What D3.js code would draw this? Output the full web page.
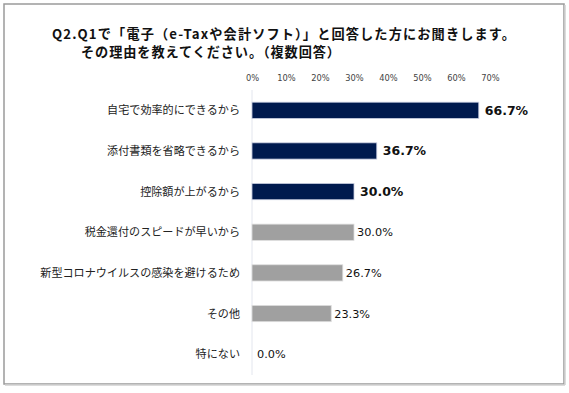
<!DOCTYPE html>
<html>
<head>
<meta charset="utf-8">
<script src="https://cdn.jsdelivr.net/npm/d3@7"></script>
<style>
  body { margin: 0; background: #fff; }
  svg { display: block; font-family: "Noto Sans CJK JP", "Noto Sans", sans-serif; }
</style>
</head>
<body>
<svg id="chart" width="569" height="393"></svg>
<script>
const categories = [
  "自宅で効率的にできるから",
  "添付書類を省略できるから",
  "控除額が上がるから",
  "税金還付のスピードが早いから",
  "新型コロナウイルスの感染を避けるため",
  "その他",
  "特にない"
];
const values = [66.7, 36.7, 30.0, 30.0, 26.7, 23.3, 0.0];
const highlighted = [true, true, true, false, false, false, false];
const tickValues = [0, 10, 20, 30, 40, 50, 60, 70];
const titleLines = [
  "Q2.Q1で「電子（e-Taxや会計ソフト）」と回答した方にお聞きします。",
  "その理由を教えてください。（複数回答）"
];

const data = categories.map((c, i) => ({ name: c, value: values[i], hi: highlighted[i] }));

const svg = d3.select("#chart");

// frame
svg.append("rect")
  .attr("x", 4).attr("y", 4)
  .attr("width", 560).attr("height", 380)
  .attr("fill", "none")
  .attr("stroke", "#9a9a9a")
  .attr("stroke-width", 1.5);
svg.append("line")
  .attr("x1", 5).attr("x2", 565).attr("y1", 385).attr("y2", 385)
  .attr("stroke", "#d0d0d0").attr("stroke-width", 1.5);
svg.append("line")
  .attr("x1", 565).attr("x2", 565).attr("y1", 5).attr("y2", 385)
  .attr("stroke", "#d0d0d0").attr("stroke-width", 1.5);

// title
svg.append("text")
  .attr("x", 52).attr("y", 38.5)
  .attr("font-size", 13.2).attr("font-weight", "bold").attr("fill", "#111")
  .attr("textLength", 463).attr("lengthAdjust", "spacing")
  .text(titleLines[0]);
svg.append("text")
  .attr("x", 81).attr("y", 57)
  .attr("font-size", 13.2).attr("font-weight", "bold").attr("fill", "#111")
  .attr("textLength", 259).attr("lengthAdjust", "spacing")
  .text(titleLines[1]);

const x = d3.scaleLinear().domain([0, 70]).range([252, 490]);
const y = d3.scaleBand().domain(categories).range([90, 374.5]).paddingInner(0.6).paddingOuter(0.3);

// top axis
const xAxis = (g) =>
  g.attr("transform", "translate(0,81)")
    .call(d3.axisTop(x).tickValues(tickValues).tickFormat((d) => d + "%").tickSize(0).tickPadding(0))
    .call((g) => g.select(".domain").remove())
    .call((g) => g.selectAll("text").attr("font-size", 8.3).attr("fill", "#444").attr("font-family", "Verdana, 'DejaVu Sans', sans-serif"));
svg.append("g").call(xAxis);

// vertical baseline
svg.append("line")
  .attr("x1", x(0)).attr("x2", x(0))
  .attr("y1", 90).attr("y2", 375)
  .attr("stroke", "#e3e6ee").attr("stroke-width", 1);

// bars
svg.append("g").selectAll("rect")
  .data(data)
  .join("rect")
  .attr("x", x(0))
  .attr("y", (d) => y(d.name))
  .attr("width", (d) => x(d.value) - x(0))
  .attr("height", y.bandwidth())
  .attr("fill", (d) => (d.hi ? "#001a4e" : "#a0a0a0"))
  .attr("stroke", (d) => (d.value > 0 ? (d.hi ? "#c8cde0" : "#dedede") : "none"))
  .attr("stroke-width", 0.8);

// value labels
svg.append("g").selectAll("text")
  .data(data)
  .join("text")
  .attr("x", (d) => x(d.value) + (d.hi ? 6 : 3) + (d.value === 0 ? 2 : 0))
  .attr("y", (d) => y(d.name) + y.bandwidth() / 2)
  .attr("dy", "0.36em")
  .attr("font-family", "Verdana, 'DejaVu Sans', sans-serif")
  .attr("font-size", (d) => (d.hi ? 12.5 : 11.3))
  .attr("font-weight", (d) => (d.hi ? "bold" : "normal"))
  .attr("fill", "#111")
  .text((d) => d.value.toFixed(1) + "%");

// category labels
svg.append("g").selectAll("text")
  .data(data)
  .join("text")
  .attr("x", 240)
  .attr("y", (d) => y(d.name) + y.bandwidth() / 2)
  .attr("dy", "0.36em")
  .attr("text-anchor", "end")
  .attr("font-size", 11.1)
  .attr("fill", "#222")
  .text((d) => d.name);
</script>
</body>
</html>
